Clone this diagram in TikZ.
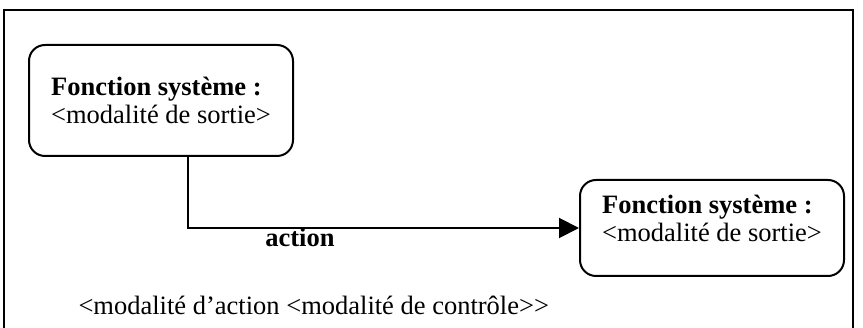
\documentclass[tikz,border=0pt]{standalone}
\usepackage{fontspec}
\setmainfont{Liberation Serif}
\usetikzlibrary{arrows.meta}
\begin{document}
\begin{tikzpicture}[x=1pt,y=-1pt,
  txt/.style={font=\fontsize{26.5}{28}\selectfont},
  fbox/.style={draw,line width=2pt,rounded corners=16pt,txt,align=left,
    minimum width=264pt,inner sep=0pt},
  link/.style={line width=2pt,-{Triangle[length=20pt,width=20pt]}}]
  \useasboundingbox (0,0) rectangle (863,328);
  % open frame around the diagram
  \draw[line width=2pt] (4,330) -- (4,10) -- (853,10) -- (853,330);
  % function boxes
  \node[fbox,minimum height=111pt] (src) at (161,100.5)
    {\textbf{Fonction système :}\\<modalité de sortie>};
  \node[fbox,minimum height=96pt,text depth=20pt] (dst) at (712,228)
    {\textbf{Fonction système :}\\<modalité de sortie>};
  % action connector
  \draw[link] ([xshift=27pt]src.south) |- (dst.west);
  \node[txt,anchor=base] (act) at (300,247) {\textbf{action}};
  \node[txt,anchor=base west] (mod) at (75,315)
    {<modalité d’action <modalité de contrôle>{}>};
\end{tikzpicture}
\end{document}
